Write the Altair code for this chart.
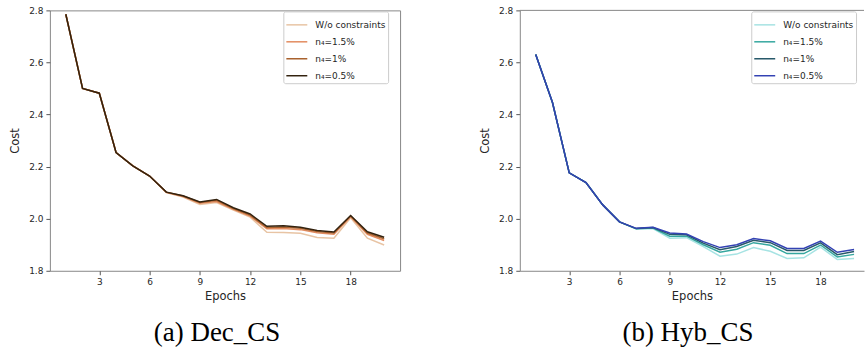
import altair as alt
import pandas as pd

epochs = list(range(1, 21))
series_names = ["W/o constraints", "n₄=1.5%", "n₄=1%", "n₄=0.5%"]

# (a) Dec_CS
dec_wo = [2.785, 2.500, 2.482, 2.254, 2.203, 2.164, 2.100, 2.083, 2.055, 2.062,
          2.033, 2.006, 1.948, 1.947, 1.944, 1.928, 1.925, 2.004, 1.925, 1.899]
dec_15 = [2.785, 2.500, 2.482, 2.254, 2.203, 2.164, 2.101, 2.085, 2.059, 2.066,
          2.036, 2.010, 1.961, 1.962, 1.958, 1.946, 1.940, 2.008, 1.940, 1.916]
dec_10 = [2.785, 2.500, 2.482, 2.254, 2.203, 2.164, 2.102, 2.087, 2.062, 2.071,
          2.039, 2.014, 1.966, 1.968, 1.963, 1.951, 1.945, 2.010, 1.945, 1.923]
dec_05 = [2.785, 2.500, 2.482, 2.254, 2.203, 2.164, 2.102, 2.088, 2.064, 2.074,
          2.042, 2.018, 1.971, 1.973, 1.967, 1.955, 1.949, 2.012, 1.950, 1.929]

# (b) Hyb_CS
hyb_wo = [2.631, 2.446, 2.176, 2.139, 2.053, 1.988, 1.960, 1.962, 1.925, 1.927,
          1.893, 1.856, 1.864, 1.889, 1.875, 1.847, 1.850, 1.891, 1.843, 1.847]
hyb_15 = [2.631, 2.446, 2.176, 2.139, 2.053, 1.988, 1.961, 1.964, 1.933, 1.933,
          1.900, 1.871, 1.883, 1.908, 1.898, 1.866, 1.866, 1.899, 1.853, 1.863]
hyb_10 = [2.631, 2.446, 2.176, 2.139, 2.053, 1.988, 1.962, 1.966, 1.940, 1.938,
          1.906, 1.881, 1.893, 1.917, 1.908, 1.878, 1.878, 1.907, 1.862, 1.874]
hyb_05 = [2.631, 2.446, 2.176, 2.139, 2.053, 1.988, 1.963, 1.967, 1.945, 1.941,
          1.912, 1.889, 1.900, 1.924, 1.915, 1.886, 1.886, 1.914, 1.871, 1.882]

dec_colors = ["#e8c4a4", "#e38b5f", "#a9622e", "#33220f"]
hyb_colors = ["#a6e3e3", "#35a79f", "#28596a", "#3342b3"]

x_ticks = [3, 6, 9, 12, 15, 18]
y_ticks = [1.8, 2.0, 2.2, 2.4, 2.6, 2.8]

PX_PER_EPOCH = 351 / 20.9
FONT = "DejaVu Sans"
TXT = "#262626"


def make_df(vals_list):
    rows = []
    for i, (name, vals) in enumerate(zip(series_names, vals_list)):
        for e, v in zip(epochs, vals):
            rows.append({"Epoch": e, "Cost": v, "Series": name, "order": i * 100 + e})
    return pd.DataFrame(rows)


def panel(df, colors, width, caption, cap_dx, legend_x, framed):
    xmax = 0.05 + width / PX_PER_EPOCH
    base = alt.Chart(df).mark_line(strokeWidth=1.5, clip=True).encode(
        x=alt.X("Epoch:Q",
                scale=alt.Scale(domain=[0.05, xmax], nice=False, zero=False),
                axis=alt.Axis(values=x_ticks, format="d", title="Epochs",
                              domain=not framed, titlePadding=4,
                              titleFontWeight="normal")),
        y=alt.Y("Cost:Q",
                scale=alt.Scale(domain=[1.8, 2.8], nice=False, zero=False),
                axis=alt.Axis(values=y_ticks, format=".1f", title="Cost",
                              domain=not framed, titlePadding=8,
                              titleFontWeight="normal")),
        color=alt.Color("Series:N",
                        scale=alt.Scale(domain=series_names, range=colors),
                        legend=alt.Legend(
                            title=None, orient="none", legendX=legend_x, legendY=1,
                            fillColor="white", strokeColor="#cccccc",
                            cornerRadius=2, padding=2, rowPadding=-7,
                            symbolType="stroke", symbolSize=441,
                            symbolStrokeWidth=1.5,
                            labelFont=FONT, labelFontSize=9, labelLimit=300,
                            labelColor=TXT, labelOffset=7)),
        order=alt.Order("order:Q"),
    )
    layers = [base]
    if not framed:
        top = alt.Chart(pd.DataFrame({"k": [0]})).mark_rule(
            color="#888888", strokeWidth=1).encode(
            x=alt.value(0), x2=alt.value(width), y=alt.value(0))
        layers.append(top)
    ch = alt.layer(*layers).properties(
        width=width, height=261,
        title=alt.TitleParams(text=caption, orient="bottom", anchor="middle",
                              frame="group", font="Liberation Serif",
                              fontSize=27, fontWeight="normal", color="black",
                              offset=18, dx=cap_dx),
    )
    if not framed:
        ch = ch.properties(view=alt.ViewBackground(stroke=None))
    return ch


dfa = make_df([dec_wo, dec_15, dec_10, dec_05])
dfb = make_df([hyb_wo, hyb_15, hyb_10, hyb_05])

left = panel(dfa, dec_colors, 351, "(a) Dec_CS", -8, 234, True)
right = panel(dfb, hyb_colors, 345, "(b) Hyb_CS", -4, 232, False)

chart = alt.hconcat(left, right, spacing=78).resolve_scale(
    color="independent").resolve_legend(color="independent").properties(
    padding={"left": 9, "top": 5, "right": 0, "bottom": 3},
    background="white",
).configure_view(stroke="#888888", strokeWidth=1).configure_axis(
    labelFont=FONT, labelFontSize=9, labelColor=TXT,
    titleFont=FONT, titleFontSize=11.5, titleFontWeight="normal",
    titleColor=TXT, tickSize=4, tickColor="#555555", grid=False,
    domainColor="#888888", labelPadding=3,
)

chart.save("out.html", embed_options={"renderer": "svg", "actions": False})
